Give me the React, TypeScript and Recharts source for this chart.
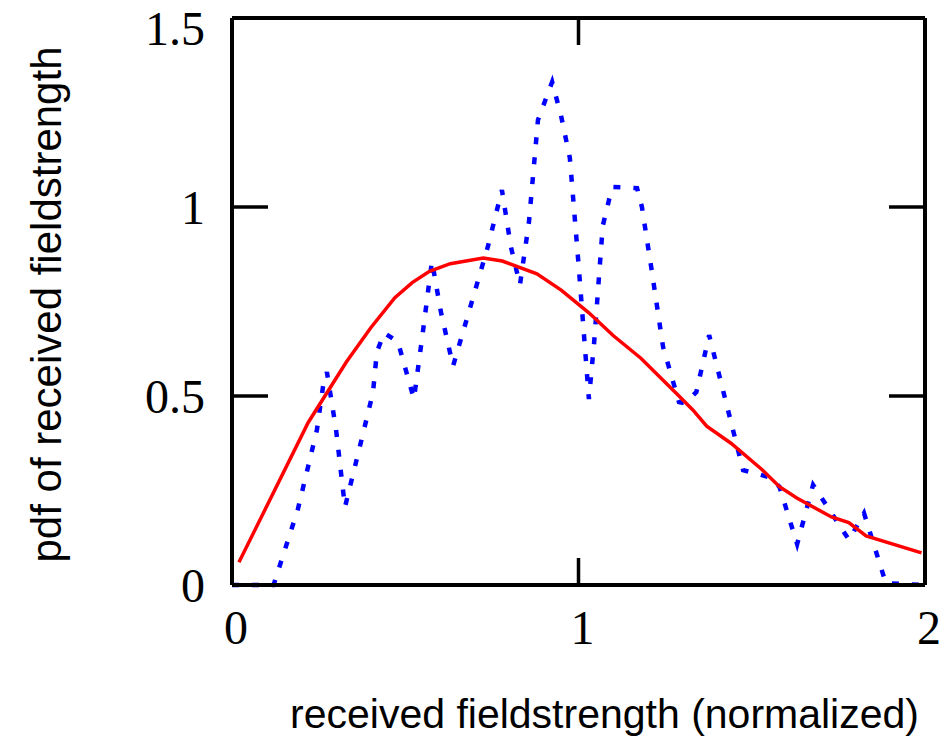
import React from "react";
import { LineChart, Line, XAxis, YAxis } from "recharts";

// fitted pdf curve (red)
const fitX = [0.02, 0.22, 0.33, 0.4, 0.47, 0.52, 0.57, 0.63, 0.725, 0.78, 0.88, 0.95, 1.03, 1.1, 1.18, 1.29, 1.33, 1.37, 1.44, 1.53, 1.58, 1.63, 1.73, 1.78, 1.83, 1.99];
const fitY = [0.06, 0.43, 0.59, 0.68, 0.76, 0.8, 0.83, 0.85, 0.865, 0.857, 0.823, 0.78, 0.72, 0.66, 0.6, 0.5, 0.463, 0.42, 0.375, 0.305, 0.26, 0.23, 0.18, 0.165, 0.13, 0.085];

// measured histogram (blue dotted)
const measX = [0, 0.12, 0.19, 0.245, 0.265, 0.274, 0.3, 0.326, 0.378, 0.407, 0.418, 0.439, 0.479, 0.525, 0.551, 0.577, 0.603, 0.638, 0.739, 0.779, 0.805, 0.831, 0.857, 0.883, 0.924, 0.95, 0.975, 1.0, 1.03, 1.045, 1.07, 1.097, 1.169, 1.183, 1.21, 1.244, 1.29, 1.307, 1.34, 1.377, 1.475, 1.547, 1.58, 1.631, 1.677, 1.781, 1.824, 1.887, 1.99];
const measY = [0, 0, 0.2, 0.41, 0.54, 0.563, 0.413, 0.206, 0.4, 0.51, 0.616, 0.667, 0.643, 0.492, 0.67, 0.857, 0.722, 0.579, 0.897, 1.045, 0.894, 0.794, 0.96, 1.23, 1.331, 1.24, 1.13, 0.85, 0.492, 0.64, 0.95, 1.053, 1.05, 1.0, 0.84, 0.63, 0.484, 0.481, 0.51, 0.661, 0.304, 0.286, 0.26, 0.108, 0.265, 0.119, 0.19, 0.005, 0];

const xTicks = [0, 1, 2];
const yTicks = [0, 0.5, 1, 1.5];

const fitData = fitX.map((x, i) => ({ x, y: fitY[i] }));
const measData = measX.map((x, i) => ({ x, y: measY[i] }));

const tickFont = { fontFamily: "Liberation Serif", fontSize: 48, fill: "#000" };
const titleFont = "Liberation Sans";
const frame = { stroke: "#000", strokeWidth: 4 };
const tickStroke = { stroke: "#000", strokeWidth: 3.5 };
const blank = () => "";

export default function App() {
	return (
		<div style={{ position: "absolute", left: 0, top: 0, background: "#fff" }}>
			<LineChart width={952} height={740} margin={{ top: 17, right: 26, bottom: 0, left: 0 }}>
				<XAxis
					xAxisId="b"
					type="number"
					dataKey="x"
					domain={[0, 2]}
					ticks={xTicks}
					height={155}
					axisLine={frame}
					tickLine={tickStroke}
					tickSize={-27}
					tickMargin={52}
					tick={{ ...tickFont, dx: 4 }}
					label={{
						content: ({ viewBox }: any) => (
							<text
								x={viewBox.x + viewBox.width / 2 + 26}
								y={728}
								textAnchor="middle"
								fontFamily={titleFont}
								fontSize={41}
								fill="#000"
							>
								received fieldstrength (normalized)
							</text>
						),
					}}
				/>
				<XAxis
					xAxisId="t"
					orientation="top"
					type="number"
					dataKey="x"
					domain={[0, 2]}
					ticks={xTicks}
					height={1}
					axisLine={frame}
					tickLine={tickStroke}
					tickSize={-27}
					tickFormatter={blank}
				/>
				<YAxis
					yAxisId="l"
					type="number"
					domain={[0, 1.5]}
					ticks={yTicks}
					width={232}
					axisLine={frame}
					tickLine={tickStroke}
					tickSize={-36}
					tickMargin={63}
					tick={tickFont}
					label={{
						content: ({ viewBox }: any) => (
							<text
								x={46}
								y={viewBox.y + viewBox.height / 2 + 3}
								textAnchor="middle"
								dominantBaseline="central"
								transform={`rotate(-90, 46, ${viewBox.y + viewBox.height / 2 + 3})`}
								fontFamily={titleFont}
								fontSize={42}
								fill="#000"
							>
								pdf of received fieldstrength
							</text>
						),
					}}
				/>
				<YAxis
					yAxisId="r"
					orientation="right"
					type="number"
					domain={[0, 1.5]}
					ticks={yTicks}
					width={1}
					axisLine={frame}
					tickLine={tickStroke}
					tickSize={-36}
					tickFormatter={blank}
				/>
				<Line
					xAxisId="b"
					yAxisId="l"
					data={measData}
					dataKey="y"
					type="linear"
					stroke="#0000ff"
					strokeWidth={4.5}
					strokeDasharray="7 13"
					dot={false}
					isAnimationActive={false}
				/>
				<Line
					xAxisId="t"
					yAxisId="r"
					data={fitData}
					dataKey="y"
					type="linear"
					stroke="#ff0000"
					strokeWidth={3.5}
					dot={false}
					isAnimationActive={false}
				/>
			</LineChart>
		</div>
	);
}
